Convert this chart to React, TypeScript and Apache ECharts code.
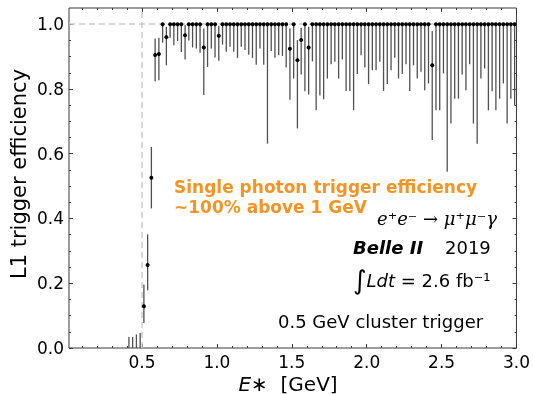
import React, { useEffect, useRef } from 'react';
import * as echarts from 'echarts';

// Bin centres (GeV)
const binCenters = [
  0.4125, 0.4375, 0.4625, 0.4875, 0.5125, 0.5375, 0.5625, 0.5875, 0.6125, 0.6375,
  0.6625, 0.6875, 0.7125, 0.7375, 0.7625, 0.7875, 0.8125, 0.8375, 0.8625, 0.8875,
  0.9125, 0.9375, 0.9625, 0.9875, 1.0125, 1.0375, 1.0625, 1.0875, 1.1125, 1.1375,
  1.1625, 1.1875, 1.2125, 1.2375, 1.2625, 1.2875, 1.3125, 1.3375, 1.3625, 1.3875,
  1.4125, 1.4375, 1.4625, 1.4875, 1.5125, 1.5375, 1.5625, 1.5875, 1.6125, 1.6375,
  1.6625, 1.6875, 1.7125, 1.7375, 1.7625, 1.7875, 1.8125, 1.8375, 1.8625, 1.8875,
  1.9125, 1.9375, 1.9625, 1.9875, 2.0125, 2.0375, 2.0625, 2.0875, 2.1125, 2.1375,
  2.1625, 2.1875, 2.2125, 2.2375, 2.2625, 2.2875, 2.3125, 2.3375, 2.3625, 2.3875,
  2.4125, 2.4375, 2.4625, 2.4875, 2.5125, 2.5375, 2.5625, 2.5875, 2.6125, 2.6375,
  2.6625, 2.6875, 2.7125, 2.7375, 2.7625, 2.7875, 2.8125, 2.8375, 2.8625, 2.8875,
  2.9125, 2.9375, 2.9625, 2.9875,
];

// Measured efficiency per bin
const efficiency = [
  0, 0, 0, 0, 0.129, 0.256, 0.526, 0.905, 0.908, 1,
  0.96, 1, 1, 1, 1, 0.966, 1, 1, 1, 1,
  0.928, 1, 1, 1, 0.964, 1, 1, 1, 1, 1,
  1, 1, 1, 1, 1, 1, 1, 1, 1, 1,
  1, 1, 1, 0.924, 1, 0.889, 0.951, 1, 0.928, 1,
  1, 1, 1, 1, 1, 1, 1, 1, 1, 1,
  1, 1, 1, 1, 1, 1, 1, 1, 1, 1,
  1, 1, 1, 1, 1, 1, 1, 1, 1, 1,
  1, 0.873, 1, 1, 1, 1, 1, 1, 1, 1,
  1, 1, 1, 1, 1, 1, 1, 1, 1, 1,
  1, 1, 1, 1,
];

// Lower end of the error bar
const errLow = [
  0, 0, 0, 0, 0.077, 0.178, 0.431, 0.824, 0.827, 0.943,
  0.873, 0.958, 0.935, 0.948, 0.914, 0.891, 0.95, 0.928, 0.925, 0.912,
  0.781, 0.868, 0.925, 0.897, 0.887, 0.937, 0.915, 0.93, 0.915, 0.896,
  0.93, 0.92, 0.906, 0.896, 0.875, 0.925, 0.875, 0.631, 0.917, 0.896,
  0.904, 0.902, 0.866, 0.767, 0.832, 0.678, 0.845, 0.793, 0.783, 0.885,
  0.734, 0.78, 0.768, 0.832, 0.876, 0.884, 0.832, 0.891, 0.794, 0.794,
  0.734, 0.846, 0.904, 0.866, 0.815, 0.858, 0.858, 0.884, 0.794, 0.815,
  0.858, 0.896, 0.832, 0.846, 0.876, 0.794, 0.873, 0.832, 0.853, 0.796,
  0.817, 0.642, 0.734, 0.734, 0.848, 0.544, 0.693, 0.77, 0.77, 0.845,
  0.796, 0.876, 0.693, 0.631, 0.832, 0.863, 0.734, 0.793, 0.734, 0.77,
  0.817, 0.693, 0.77, 0.75,
];

// Upper end of the error bar
const errHigh = [
  0.034, 0.034, 0.042, 0.046, 0.196, 0.351, 0.621, 0.956, 0.958, 1,
  0.992, 1, 1, 1, 1, 0.997, 1, 1, 1, 1,
  0.987, 1, 1, 1, 0.995, 1, 1, 1, 1, 1,
  1, 1, 1, 1, 1, 1, 1, 1, 1, 1,
  1, 1, 1, 0.987, 1, 0.951, 0.989, 1, 0.992, 1,
  1, 1, 1, 1, 1, 1, 1, 1, 1, 1,
  1, 1, 1, 1, 1, 1, 1, 1, 1, 1,
  1, 1, 1, 1, 1, 1, 1, 1, 1, 1,
  1, 0.979, 1, 1, 1, 1, 1, 1, 1, 1,
  1, 1, 1, 1, 1, 1, 1, 1, 1, 1,
  1, 1, 1, 1,
];

const xMajorTicks = [0.5, 1.0, 1.5, 2.0, 2.5, 3.0];
const xMinorTicks = [0.1, 0.2, 0.3, 0.4, 0.6, 0.7, 0.8, 0.9, 1.1, 1.2, 1.3, 1.4, 1.6, 1.7, 1.8, 1.9,
  2.1, 2.2, 2.3, 2.4, 2.6, 2.7, 2.8, 2.9];
const yMajorTicks = [0, 0.2, 0.4, 0.6, 0.8, 1.0];
const yMinorTicks = [0.05, 0.1, 0.15, 0.25, 0.3, 0.35, 0.45, 0.5, 0.55, 0.65, 0.7, 0.75, 0.85, 0.9, 0.95];

const X_MIN = 0.0125;
const X_MAX = 3.0;
const Y_MIN = 0;
const Y_MAX = 1.05;
const thresholdX = 0.5;
const plateauY = 1.0;

const FRAME = '#3a3a3a';
const ORANGE = '#f39424';

function xAxisDef(pos: 'top' | 'bottom', ticks: number[], len: number, labels: boolean) {
  return {
    type: 'value', position: pos, min: X_MIN, max: X_MAX,
    axisLine: { show: false, onZero: false },
    splitLine: { show: false },
    axisTick: { show: true, inside: true, length: len, customValues: ticks, lineStyle: { color: FRAME, width: 1 } },
    axisLabel: {
      show: labels, customValues: ticks, color: '#000', fontSize: 17, fontFamily: 'DejaVu Sans', margin: 5,
      formatter: (v: number) => v.toFixed(1),
    },
  };
}
function yAxisDef(pos: 'left' | 'right', ticks: number[], len: number, labels: boolean) {
  return {
    type: 'value', position: pos, min: Y_MIN, max: Y_MAX,
    axisLine: { show: false, onZero: false },
    splitLine: { show: false },
    axisTick: { show: true, inside: true, length: len, customValues: ticks, lineStyle: { color: FRAME, width: 1 } },
    axisLabel: {
      show: labels, customValues: ticks, color: '#000', fontSize: 17, fontFamily: 'DejaVu Sans', margin: 5,
      formatter: (v: number) => v.toFixed(1),
    },
  };
}

export default function App() {
  const ref = useRef<HTMLDivElement>(null);
  useEffect(() => {
    if (!ref.current) return;
    const chart = echarts.init(ref.current, undefined, { renderer: 'svg' });
    const bars = binCenters.map((x, i) => [x, errLow[i], errHigh[i]]);
    const points = binCenters
      .map((x, i) => [x, efficiency[i]])
      .filter((p) => p[1] > 0);
    chart.setOption({
      animation: false,
      grid: { left: 69, right: 15, top: 8, bottom: 47, show: true, borderColor: FRAME, borderWidth: 1, backgroundColor: 'transparent' },
      xAxis: [
        xAxisDef('bottom', xMajorTicks, 4, true),
        xAxisDef('bottom', xMinorTicks, 2, false),
        xAxisDef('top', xMajorTicks, 4, false),
        xAxisDef('top', xMinorTicks, 2, false),
      ],
      yAxis: [
        yAxisDef('left', yMajorTicks, 4, true),
        yAxisDef('left', yMinorTicks, 2, false),
        yAxisDef('right', yMajorTicks, 4, false),
        yAxisDef('right', yMinorTicks, 2, false),
      ],
      series: [
        {
          type: 'line',
          data: [],
          xAxisIndex: 0,
          yAxisIndex: 0,
          z: 1,
          markLine: {
            silent: true,
            z: 1,
            symbol: 'none',
            label: { show: false },
            lineStyle: { color: '#cccccc', type: [6, 4], width: 1.5 },
            data: [{ xAxis: thresholdX }, { yAxis: plateauY }],
          },
        },
        {
          type: 'custom',
          xAxisIndex: 0,
          yAxisIndex: 0,
          data: bars,
          encode: { x: 0, y: [1, 2] },
          z: 3,
          renderItem: (params: any, api: any) => {
            const x = api.value(0);
            const p1 = api.coord([x, api.value(1)]);
            const p2 = api.coord([x, api.value(2)]);
            return {
              type: 'line',
              shape: { x1: p1[0], y1: p1[1], x2: p2[0], y2: p2[1] },
              style: { stroke: '#505050', lineWidth: 1.3 },
            };
          },
        },
        {
          type: 'scatter',
          xAxisIndex: 0,
          yAxisIndex: 0,
          data: points,
          symbol: 'circle',
          symbolSize: 4,
          itemStyle: { color: '#000', opacity: 1 },
          z: 6,
          clip: false,
        },
      ],
      graphic: [
        {
          type: 'text', left: 174, top: 178,
          style: { text: 'Single photon trigger efficiency', fill: ORANGE, font: 'bold 17px "DejaVu Sans"' },
        },
        {
          type: 'text', left: 174, top: 198,
          style: { text: '~100% above 1 GeV', fill: ORANGE, font: 'bold 17px "DejaVu Sans"' },
        },
        {
          type: 'text', left: 377, top: 209,
          style: { text: 'e\u207Ae\u207B \u2192 \u03BC\u207A\u03BC\u207B\u03B3', fill: '#000', font: 'italic 18px "DejaVu Serif"' },
        },
        {
          type: 'text', left: 353, top: 238,
          style: { text: 'Belle II', fill: '#000', font: 'italic bold 18px "DejaVu Sans"' },
        },
        {
          type: 'text', left: 445, top: 238,
          style: { text: '2019', fill: '#000', font: '18px "DejaVu Sans"' },
        },
        {
          type: 'text', left: 353, top: 267,
          style: {
            text: '{i|\u222B}{l|Ldt}{n| = 2.6 fb\u207B\u00B9}',
            fill: '#000',
            rich: {
              i: { font: '26px "DejaVu Sans"', fill: '#000' },
              l: { font: 'italic 18px "DejaVu Sans"', fill: '#000' },
              n: { font: '18px "DejaVu Sans"', fill: '#000' },
            },
          },
        },
        {
          type: 'text', left: 278, top: 312,
          style: { text: '0.5 GeV cluster trigger', fill: '#000', font: '18px "DejaVu Sans"' },
        },
        {
          type: 'text', x: 19, y: 174, rotation: Math.PI / 2,
          style: { text: 'L1 trigger efficiency', fill: '#000', font: '21px "DejaVu Sans"', align: 'center', verticalAlign: 'middle' },
        },
        {
          type: 'text', x: 288, y: 384,
          style: {
            text: '{e|E}{n|\u2217  [GeV]}',
            align: 'center', verticalAlign: 'middle',
            rich: {
              e: { font: 'italic 20px "DejaVu Sans"', fill: '#000', lineHeight: 19 },
              n: { font: '20px "DejaVu Sans"', fill: '#000', lineHeight: 19 },
            },
          },
        },
      ],
    });
    return () => chart.dispose();
  }, []);
  return <div ref={ref} style={{ position: 'fixed', left: 0, top: 0, width: 533, height: 395 }} />;
}
